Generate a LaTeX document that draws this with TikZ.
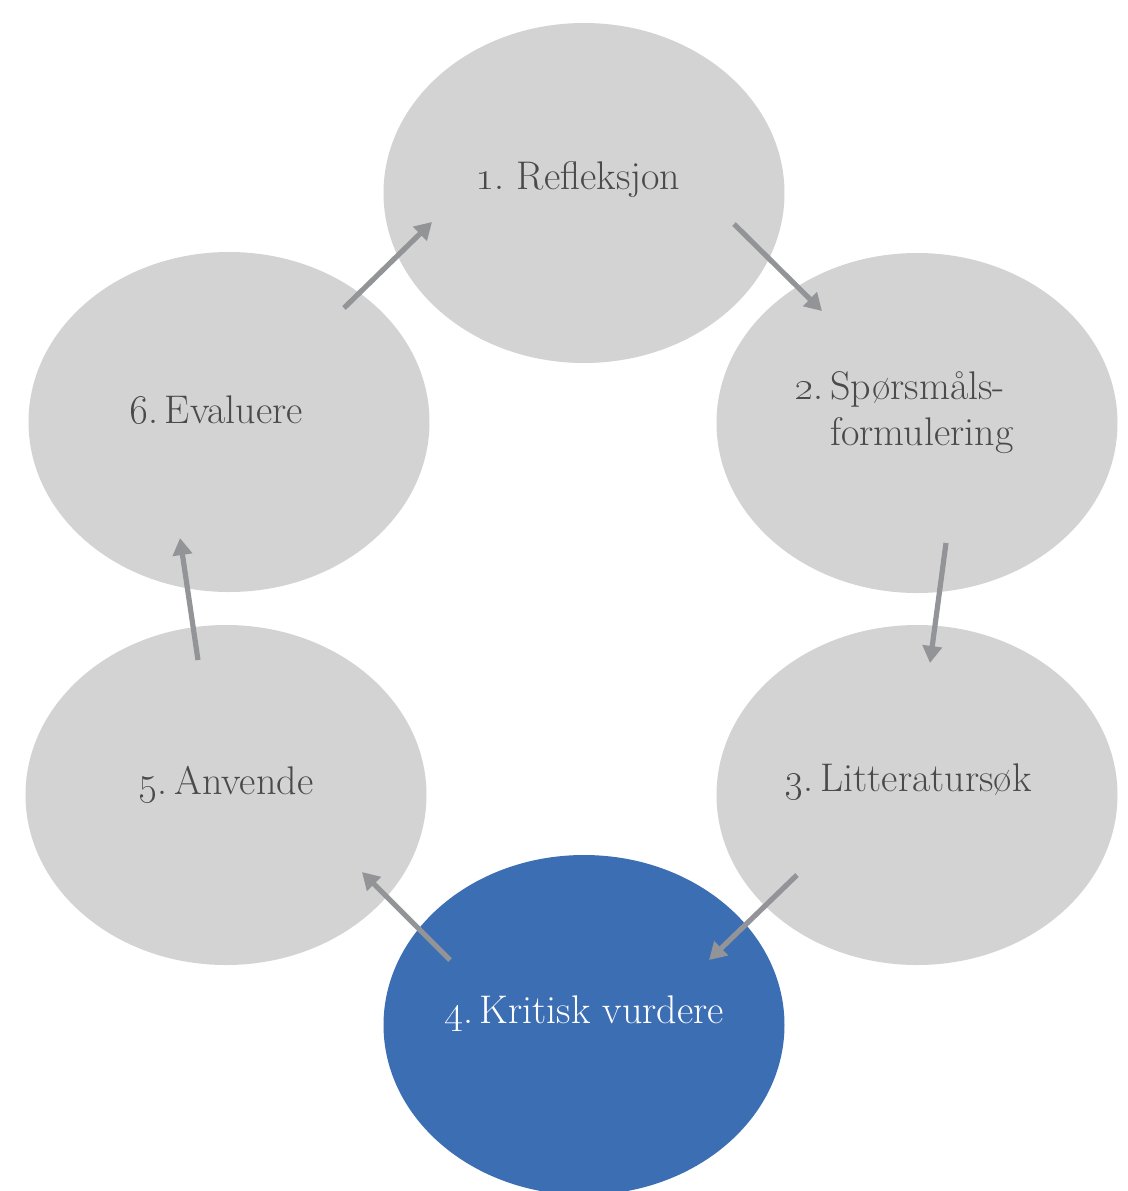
\documentclass[tikz,border=0pt]{standalone}
\usepackage{xcolor}
\usepackage{tikz}
\usetikzlibrary{calc,shapes.geometric,arrows.meta}
\definecolor{stagegray}{HTML}{D3D3D3}
\definecolor{stageblue}{HTML}{3C6EB4}
\definecolor{labgray}{HTML}{4A4A4A}
\definecolor{arrowgray}{HTML}{939498}
\tikzset{
  stage/.style={ellipse, fill=stagegray, draw=none, minimum width=200.5pt, minimum height=170pt, inner sep=0pt},
  active/.style={stage, fill=stageblue},
  lab/.style={text=labgray, font=\fontsize{20}{23}\selectfont, inner sep=0pt, align=left},
  flow/.style={draw=arrowgray, line width=2.6pt, -{Triangle[width=9.5pt,length=8.5pt]}},
}

\begin{document}
\begin{tikzpicture}[x=0.5pt,y=-0.5pt]
  \useasboundingbox (0,0) rectangle (1128,1191);
  \clip (0,0) rectangle (1128,1191);

  \node[stage] (S1) at (584,193) {};
  \node[stage] (S2) at (917,423) {};
  \node[stage] (S3) at (917,795) {};
  \node[active] (S4) at (584,1025) {};
  \node[stage] (S5) at (226,795) {};
  \node[stage] (S6) at (229,422) {};

  \node[lab] (L1) at (578,180) {\oldstylenums{1}.\ Refleksjon};
  \node[lab] (L2) at (904,413) {\oldstylenums{2}.\,Spørsmåls-\\\phantom{\oldstylenums{2}.\,}formulering};
  \node[lab] (L3) at (908,782) {\oldstylenums{3}.\,Litteratursøk};
  \node[lab,text=white] (L4) at (584,1014) {\oldstylenums{4}.\,Kritisk vurdere};
  \node[lab] (L5) at (226,784) {\oldstylenums{5}.\,Anvende};
  \node[lab] (L6) at (216,410) {\oldstylenums{6}.\,Evaluere};

  \coordinate (A1) at (344,308);
  \coordinate (B1) at (432,222);
  \coordinate (A2) at (734,224);
  \coordinate (B2) at (822,311);
  \coordinate (A3) at (946,543);
  \coordinate (B3) at (930,663);
  \coordinate (A4) at (797,875);
  \coordinate (B4) at (709,960);
  \coordinate (A5) at (450,960);
  \coordinate (B5) at (362,872);
  \coordinate (A6) at (198,660);
  \coordinate (B6) at (180,538);

  \draw[flow] (A1) -- (B1);
  \draw[flow] (A2) -- (B2);
  \draw[flow] (A3) -- (B3);
  \draw[flow] (A4) -- (B4);
  \draw[flow] (A5) -- (B5);
  \draw[flow] (A6) -- (B6);
\end{tikzpicture}
\end{document}
